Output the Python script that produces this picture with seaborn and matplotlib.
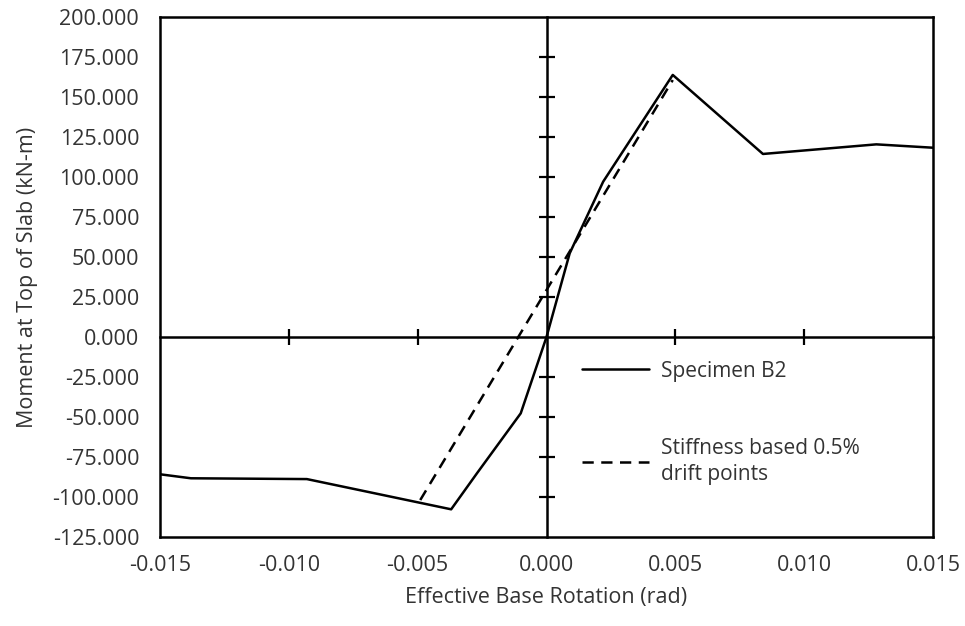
import matplotlib
matplotlib.use("Agg")
import matplotlib.pyplot as plt
import seaborn as sns

# values
rotation_b2 = [-0.0150, -0.0138, -0.0093, -0.0037, -0.0027, -0.0010, 0.0000,
               0.0009, 0.0022, 0.0049, 0.0084, 0.0128, 0.0150]
moment_b2 = [-85.8, -88.3, -88.8, -107.7, -85.2, -47.7, 0.0,
             52.3, 97.1, 163.8, 114.4, 120.4, 118.3]

rotation_drift = [-0.0049, 0.0049]
moment_drift = [-101.9, 160.6]

x_ticks = [-0.015, -0.010, -0.005, 0.000, 0.005, 0.010, 0.015]
y_ticks = [-125, -100, -75, -50, -25, 0, 25, 50, 75, 100, 125, 150, 175, 200]

sns.set_style("white")
plt.rcParams['font.family'] = ['Open Sans', 'DejaVu Sans']

fig = plt.figure(figsize=(9.65, 6.26), dpi=100)
rect = [160 / 965, 1 - 537 / 626, 773 / 965, 520 / 626]
ax = fig.add_axes(rect)

sns.lineplot(x=rotation_b2, y=moment_b2, ax=ax, color='black', linewidth=1.8,
             sort=False, estimator=None, label='Specimen B2')
sns.lineplot(x=rotation_drift, y=moment_drift, ax=ax, color='black', linewidth=1.8,
             linestyle=(0, (4.5, 3)), sort=False, estimator=None,
             label='Stiffness based 0.5%\ndrift points')

ax.set_xlim(-0.015, 0.015)
ax.set_ylim(-125, 200)
ax.set_xticks(x_ticks)
ax.set_yticks(y_ticks)
ax.set_xticklabels([f"{v:.3f}" for v in x_ticks])
ax.set_yticklabels([f"{v:.3f}" for v in y_ticks])
ax.tick_params(length=0, labelsize=15.5, colors='#333333', pad=13)
ax.tick_params(axis='y', pad=15)
for s in ax.spines.values():
    s.set_visible(True)
    s.set_color('black')
    s.set_linewidth(1.8)

ax.set_xlabel('Effective Base Rotation (rad)', fontsize=15.5, color='#333333', labelpad=8)
ax.set_ylabel('Moment at Top of Slab (kN-m)', fontsize=15.5, color='#333333', labelpad=10)

# zero axes with cross ticks, drawn on a transparent overlay with the same limits
ax0 = fig.add_axes(rect)
ax0.patch.set_alpha(0)
ax0.set_xlim(ax.get_xlim())
ax0.set_ylim(ax.get_ylim())
ax0.spines['left'].set_position(('data', 0))
ax0.spines['bottom'].set_position(('data', 0))
ax0.spines['right'].set_visible(False)
ax0.spines['top'].set_visible(False)
for k in ('left', 'bottom'):
    ax0.spines[k].set_color('black')
    ax0.spines[k].set_linewidth(1.8)
ax0.xaxis.set_ticks_position('bottom')
ax0.yaxis.set_ticks_position('left')
ax0.set_xticks([t for t in x_ticks if t not in (-0.015, 0.0, 0.015)])
ax0.set_yticks([t for t in y_ticks if t not in (-125, 0, 200)])
ax0.tick_params(direction='inout', length=11, width=1.6, color='black',
                labelleft=False, labelbottom=False)

leg = ax.legend(loc='upper left', bbox_to_anchor=(0.522, 0.375), frameon=False,
                fontsize=15, handlelength=3.2, handletextpad=0.6,
                labelspacing=2.7)
for t in leg.get_texts():
    t.set_color('#333333')
    t.set_linespacing(1.3)

fig.savefig('out.png', dpi=100)
